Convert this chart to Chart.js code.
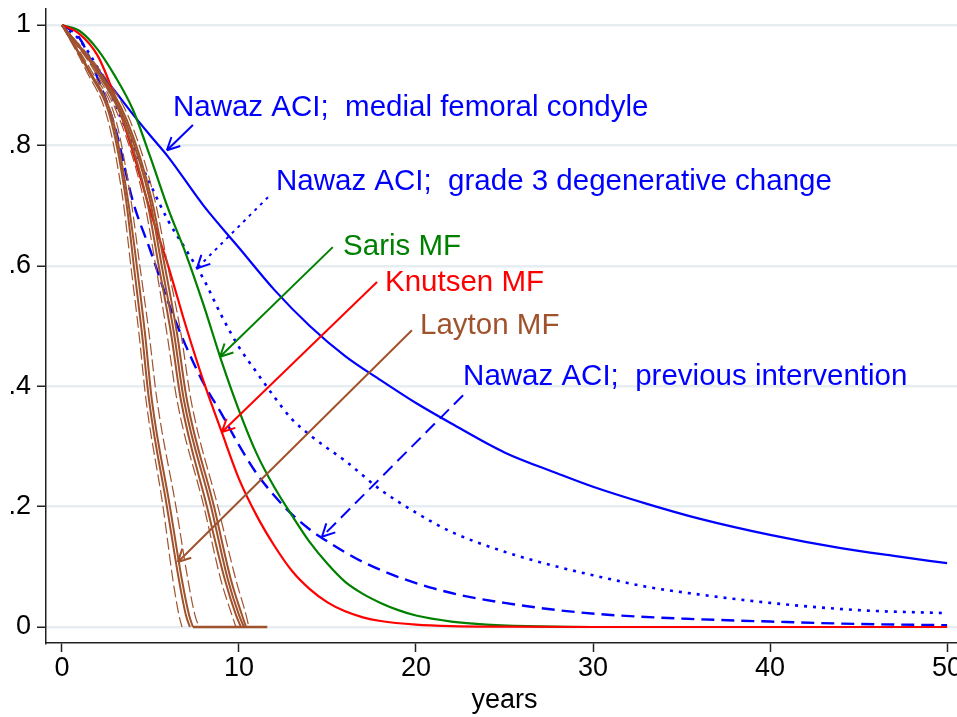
<!DOCTYPE html>
<html>
<head>
<meta charset="utf-8">
<script src="https://cdn.jsdelivr.net/npm/chart.js@4.4.1/dist/chart.umd.min.js"></script>
<style>
  html, body { margin: 0; padding: 0; overflow: hidden; background: #fff; }
  canvas { display: block; }
</style>
</head>
<body>
<canvas id="c" width="975" height="717"></canvas>
<script>
/* survival curves, years vs proportion surviving */
const FONT = '"Liberation Sans", Arial, Helvetica, sans-serif';

const xTicks = [0, 10, 20, 30, 40, 50];
const yTicks = [0, 0.2, 0.4, 0.6, 0.8, 1];
const yTickLabels = ['0', '.2', '.4', '.6', '.8', '1'];

// Nawaz ACI; medial femoral condyle
const tAciMfc = [0, 1, 2, 3, 4, 5, 6, 8, 10, 12, 14, 16, 18, 20, 22, 25, 28, 30, 33, 36, 40, 44, 47, 50];
const aciMfc  = [1, .963, .927, .89, .852, .816, .781, .70, .63, .56, .50, .45, .41, .372, .338, .29, .255, .233, .205, .18, .153, .131, .118, .106];

// Nawaz ACI; grade 3 degenerative change
const tAciG3 = [0, 1, 2, 3, 4, 5, 6, 7, 8, 9, 10, 11, 12, 13, 14, 15, 16, 18, 20, 22, 25, 28, 30, 33, 36, 40, 45, 50];
const aciG3  = [1, .975, .93, .87, .80, .735, .675, .627, .578, .518, .465, .423, .382, .345, .319, .297, .276, .228, .19, .158, .125, .10, .086, .067, .054, .04, .028, .023];

// Nawaz ACI; previous intervention
const tAciPrev = [0, 1, 2, 3, 4, 5, 6, 7, 8, 9, 10, 11, 12, 13, 14, 15, 16, 17, 19, 21, 23, 25, 28, 31, 35, 40, 45, 50];
const aciPrev  = [1, .978, .913, .83, .708, .625, .54, .467, .405, .355, .302, .255, .218, .187, .162, .142, .124, .108, .083, .064, .05, .04, .028, .02, .014, .009, .005, .003];

// Saris MF
const tSaris = [0, 1, 2, 3, 4, 5, 6, 7, 8, 9, 10, 11, 12, 13, 14, 15, 16, 17, 18, 19, 20, 22, 24, 27, 30, 50];
const saris  = [1, .99, .96, .915, .86, .78, .695, .62, .535, .443, .36, .288, .232, .185, .141, .105, .075, .055, .04, .028, .019, .009, .004, .001, 0, 0];

// Knutsen MF
const tKnutsen = [0, 1, 2, 3, 4, 5, 6, 7, 8, 9, 10, 11, 12, 13, 14, 15, 16, 17, 18, 20, 22, 25, 30, 50];
const knutsen  = [1, .985, .95, .88, .79, .69, .60, .50, .408, .326, .246, .185, .135, .093, .063, .041, .026, .016, .01, .004, .0015, .0005, 0, 0];

// Layton MF: years at which each curve reaches these levels
const laytonLevels = [1, .925, .842, .709, .598, .488, .377, .2, .078, .02, 0];
const laytonL1  = [0, 1.47, 2.77, 3.62, 4.07, 4.52, 4.92, 5.93, 6.61, 7.0, 7.23];
const laytonL2  = [0, 1.53, 2.88, 3.73, 4.24, 4.69, 5.08, 6.10, 6.78, 7.18, 7.40];
const laytonLa  = [0, 1.36, 2.60, 3.45, 3.90, 4.35, 4.75, 5.71, 6.27, 6.61, 6.78];
const laytonLb  = [0, 1.64, 3.05, 3.90, 4.41, 4.92, 5.37, 6.44, 7.12, 7.51, 7.74];
const laytonR1  = [0, 1.92, 3.45, 4.80, 5.48, 6.16, 6.72, 8.19, 9.21, 9.83, 10.11];
const laytonR2  = [0, 1.98, 3.56, 4.97, 5.65, 6.33, 6.89, 8.42, 9.38, 10.0, 10.28];
const laytonR3  = [0, 2.03, 3.67, 5.08, 5.82, 6.50, 7.06, 8.59, 9.55, 10.17, 10.40];
const laytonRa  = [0, 1.81, 3.28, 4.63, 5.31, 5.93, 6.50, 8.02, 8.98, 9.60, 9.83];
const laytonRb  = [0, 2.15, 3.84, 5.25, 5.99, 6.72, 7.29, 8.81, 9.83, 10.40, 10.56];
const tLaytonFlat = [7.4, 11.6];
const laytonFlat  = [0, 0];

const BLUE = '#0000ff', GREEN = '#008000', RED = '#ff0000', BROWN = '#a0522d';

// labels with their arrows (data units): text left/middle, arrow tail, arrow head
const notes = [
  { text: 'Nawaz ACI;  medial femoral condyle', color: BLUE, at: [6.27, .862], from: [7.40, .834], to: [5.93, .792], dash: [] },
  { text: 'Nawaz ACI;  grade 3 degenerative change', color: BLUE, at: [12.09, .739], from: [11.64, .714], to: [7.63, .596], dash: [3, 5] },
  { text: 'Saris MF', color: GREEN, at: [15.88, .631], from: [15.3, .631], to: [8.93, .449], dash: [] },
  { text: 'Knutsen MF', color: RED, at: [18.25, .571], from: [17.8, .573], to: [9.04, .324], dash: [] },
  { text: 'Layton MF', color: BROWN, at: [20.23, .50], from: [19.77, .493], to: [6.55, .108], dash: [] },
  { text: 'Nawaz ACI;  previous intervention', color: BLUE, at: [22.66, .415], from: [22.66, .385], to: [14.69, .150], dash: [13, 7] },
];

const pts = (xs, ys) => xs.map((x, i) => ({ x, y: ys[i] }));
const line = (data, color, width, dash) => ({
  data, borderColor: color, borderWidth: width, borderDash: dash || [],
  pointRadius: 0, fill: false, cubicInterpolationMode: 'monotone', showLine: true,
});

const datasets = [
  line(pts(laytonL1, laytonLevels), BROWN, 2),
  line(pts(laytonL2, laytonLevels), BROWN, 2),
  line(pts(laytonR1, laytonLevels), BROWN, 2),
  line(pts(laytonR2, laytonLevels), BROWN, 2),
  line(pts(laytonR3, laytonLevels), BROWN, 2),
  line(pts(tLaytonFlat, laytonFlat), BROWN, 2.5),
  line(pts(laytonLa, laytonLevels), BROWN, 1.2, [12, 4]),
  line(pts(laytonLb, laytonLevels), BROWN, 1.2, [12, 4]),
  line(pts(laytonRa, laytonLevels), BROWN, 1.2, [12, 4]),
  line(pts(laytonRb, laytonLevels), BROWN, 1.2, [12, 4]),
  line(pts(tKnutsen, knutsen), RED, 2.2),
  line(pts(tSaris, saris), GREEN, 2.2),
  line(pts(tAciPrev, aciPrev), BLUE, 2.4, [13, 7]),
  line(pts(tAciG3, aciG3), BLUE, 2.6, [3, 6]),
  line(pts(tAciMfc, aciMfc), BLUE, 2.2),
];

const notesPlugin = {
  id: 'notes',
  afterDatasetsDraw(chart) {
    const { ctx, scales: { x, y } } = chart;
    ctx.save();
    notes.forEach(n => {
      const x0 = x.getPixelForValue(n.from[0]), y0 = y.getPixelForValue(n.from[1]);
      const x1 = x.getPixelForValue(n.to[0]),   y1 = y.getPixelForValue(n.to[1]);
      ctx.strokeStyle = n.color; ctx.lineWidth = 2; ctx.lineCap = 'butt';
      ctx.setLineDash(n.dash);
      ctx.beginPath(); ctx.moveTo(x0, y0); ctx.lineTo(x1, y1); ctx.stroke();
      ctx.setLineDash([]);
      const a = Math.atan2(y0 - y1, x0 - x1);
      [0.47, -0.47].forEach(d => {
        ctx.beginPath(); ctx.moveTo(x1, y1);
        ctx.lineTo(x1 + 14 * Math.cos(a + d), y1 + 14 * Math.sin(a + d));
        ctx.stroke();
      });
      ctx.fillStyle = n.color;
      ctx.font = '29.5px ' + FONT;
      ctx.textAlign = 'left'; ctx.textBaseline = 'middle';
      ctx.fillText(n.text, x.getPixelForValue(n.at[0]), y.getPixelForValue(n.at[1]));
    });
    ctx.restore();
  }
};

new Chart(document.getElementById('c'), {
  type: 'scatter',
  data: { datasets },
  plugins: [notesPlugin],
  options: {
    responsive: false, animation: false, devicePixelRatio: 1,
    layout: { padding: { top: 9, right: 12, left: 0, bottom: 0 } },
    plugins: { legend: { display: false }, tooltip: { enabled: false } },
    scales: {
      x: {
        type: 'linear', min: -0.9, max: 50.9,
        afterBuildTicks: s => { s.ticks = xTicks.map(v => ({ value: v })); },
        afterFit: s => { s.height = 74; s.paddingLeft = 0; s.paddingRight = 0; },
        ticks: { color: '#000', padding: 3, font: { family: FONT, size: 27, lineHeight: 1 }, maxRotation: 0 },
        grid: { drawOnChartArea: false, tickLength: 9, tickColor: '#222', tickWidth: 1.5 },
        border: { color: '#222', width: 1.5 },
        title: { display: true, text: 'years', color: '#000', padding: { top: 0, bottom: 0 }, font: { family: FONT, size: 27, lineHeight: 1.2 } },
      },
      y: {
        type: 'linear', min: -0.0266, max: 1.0266,
        afterBuildTicks: s => { s.ticks = yTicks.map(v => ({ value: v })); },
        afterFit: s => { s.width = 46; s.paddingTop = 0; s.paddingBottom = 0; },
        ticks: { color: '#000', padding: 6, font: { family: FONT, size: 27, lineHeight: 1 },
                 callback: (v, i) => yTickLabels[i] },
        grid: { color: '#e6eef1', lineWidth: 2.5, tickLength: 9, tickColor: '#222', tickWidth: 1.5 },
        border: { color: '#222', width: 1.5 },
      },
    },
  },
});
</script>
</body>
</html>
